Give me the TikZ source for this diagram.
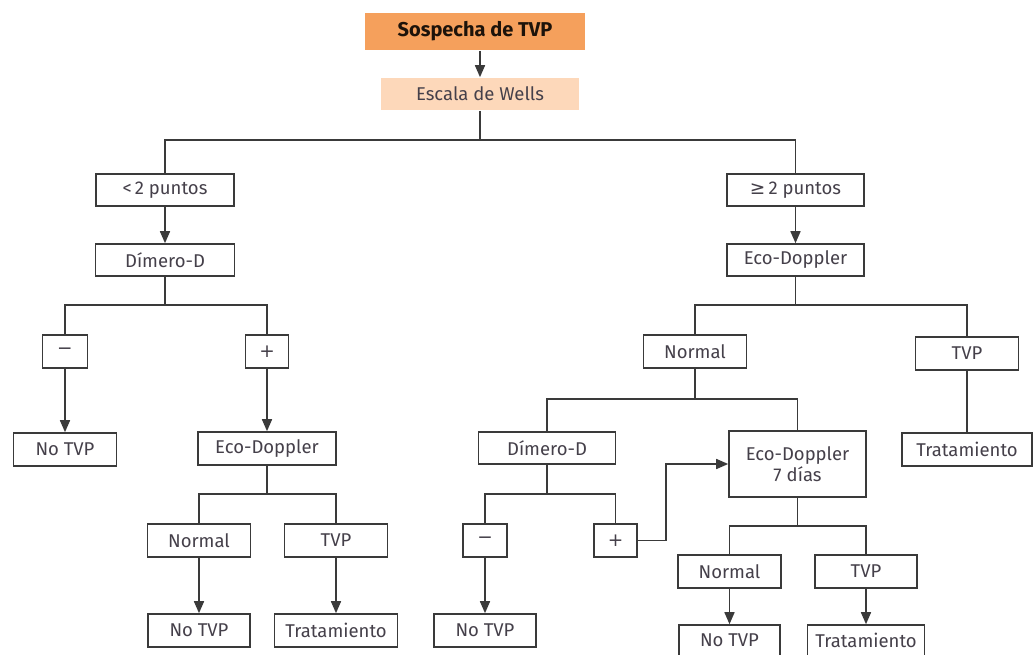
\documentclass[tikz,border=0pt]{standalone}
\usepackage{fontspec}
\setmainfont{Fira Sans}
\newfontfamily\symfont{DejaVu Sans}
\usetikzlibrary{arrows.meta}
\definecolor{lin}{HTML}{3A3A3A}
\definecolor{txt}{HTML}{45404A}
\definecolor{orng}{HTML}{F5A05C}
\definecolor{peach}{HTML}{FDD8BA}
\tikzset{
  box/.style={draw=lin, line width=1.6pt, fill=white, inner sep=0pt, align=center,
    text=txt, font=\fontsize{18.5}{21}\selectfont},
  conn/.style={draw=lin, line width=1.6pt},
  arr/.style={conn, -{Triangle[width=10pt,length=12pt]}},
}
\begin{document}
\begin{tikzpicture}[x=1pt,y=-1pt]
\useasboundingbox (0,0) rectangle (1034,654);
% top
\node[box, draw=none, fill=orng, minimum width=220pt, minimum height=37pt,
  text=black!85!brown, font=\fontsize{20}{23}\selectfont\bfseries] (sos) at (475,31.5) {Sospecha de TVP};
\node[box, draw=none, fill=peach, minimum width=198pt, minimum height=32pt] (esc) at (480,94) {Escala de Wells};
% level 1
\node[box, minimum width=138pt, minimum height=32pt] (lt2) at (165,190) {<\,2 puntos};
\node[box, minimum width=137pt, minimum height=32pt] (ge2) at (795.5,190) {{\symfont ≥}\,2 puntos};
\node[box, minimum width=139pt, minimum height=32pt] (dimL) at (165,260) {Dímero-D};
\node[box, minimum width=137pt, minimum height=32pt] (ecoR) at (795.5,260) {Eco-Doppler};
% left branch
\node[box, minimum width=45pt, minimum height=33pt] (minL) at (65,351.5) {\symfont −};
\node[box, minimum width=43pt, minimum height=33pt] (plusL) at (267,351.5) {\symfont +};
\node[box, minimum width=103pt, minimum height=33pt] (notvpL) at (65,449.5) {No TVP};
\node[box, minimum width=138pt, minimum height=33pt] (ecoL) at (267,448.5) {Eco-Doppler};
\node[box, minimum width=103pt, minimum height=33pt] (normL) at (199,540.5) {Normal};
\node[box, minimum width=103pt, minimum height=33pt] (tvpL) at (336,540.5) {TVP};
\node[box, minimum width=102pt, minimum height=33pt] (notvpL2) at (199,630.5) {No TVP};
\node[box, minimum width=123pt, minimum height=33pt] (tratL) at (336,630.5) {Tratamiento};
% right branch
\node[box, minimum width=103pt, minimum height=33pt] (normR) at (695,351.5) {Normal};
\node[box, minimum width=103pt, minimum height=33pt] (tvpR) at (967,353.5) {TVP};
\node[box, minimum width=130pt, minimum height=33pt] (tratR) at (967,449.5) {Tratamiento};
\node[box, minimum width=137pt, minimum height=32pt] (dimR) at (547,448) {Dímero-D};
\node[box, minimum width=137pt, minimum height=66pt] (eco7) at (797.5,464) {Eco-Doppler\\7 días};
\node[box, minimum width=44pt, minimum height=33pt] (minR) at (485,540.5) {\symfont −};
\node[box, minimum width=43pt, minimum height=33pt] (plusR) at (615.5,540.5) {\symfont +};
\node[box, minimum width=102pt, minimum height=33pt] (notvpR) at (485,630.5) {No TVP};
\node[box, minimum width=103pt, minimum height=33pt] (normR2) at (729.5,571.5) {Normal};
\node[box, minimum width=102pt, minimum height=33pt] (tvpR2) at (866,571.5) {TVP};
\node[box, minimum width=101pt, minimum height=31pt] (notvpR3) at (729.5,640.5) {No TVP};
\node[box, minimum width=117pt, minimum height=31pt] (tratR3) at (866,640.5) {Tratamiento};
% bars
\coordinate (b1) at (480,140);
\coordinate (b2) at (165,305);
\coordinate (b3) at (267,494);
\coordinate (b4) at (795.5,305);
\coordinate (b5) at (695,399);
\coordinate (b6) at (547,494);
\coordinate (b7) at (797.5,526);
% connectors
\draw[arr] (esc.north |- sos.south) -- (esc.north);
\draw[conn] (esc.south) -- (b1);
\draw[conn] (lt2.north) |- (b1) -| (ge2.north);
\draw[arr] (lt2.south) -- (dimL.north);
\draw[arr] (ge2.south) -- (ecoR.north);
\draw[conn] (dimL.south) -- (b2);
\draw[conn] (minL.north) |- (b2) -| (plusL.north);
\draw[arr] (minL.south) -- (notvpL.north);
\draw[arr] (plusL.south) -- (ecoL.north);
\draw[conn] (ecoL.south) -- (b3);
\draw[conn] (normL.north) |- (b3) -| (tvpL.north);
\draw[arr] (normL.south) -- (notvpL2.north);
\draw[arr] (tvpL.south) -- (tratL.north);
\draw[conn] (ecoR.south) -- (b4);
\draw[conn] (normR.north) |- (b4) -| (tvpR.north);
\draw[conn] (tvpR.south) -- (tratR.north);
\draw[conn] (normR.south) -- (b5);
\draw[conn] (dimR.north) |- (b5) -| (eco7.north);
\draw[conn] (dimR.south) -- (b6);
\draw[conn] (minR.north) |- (b6) -| (plusR.north);
\draw[arr] (minR.south) -- (notvpR.north);
\draw[arr] (plusR.east) -- ++(28,0) |- (eco7.west);
\draw[conn] (eco7.south) -- (b7);
\draw[conn] (normR2.north) |- (b7) -| (tvpR2.north);
\draw[arr] (normR2.south) -- (notvpR3.north);
\draw[arr] (tvpR2.south) -- (tratR3.north);
\end{tikzpicture}
\end{document}
